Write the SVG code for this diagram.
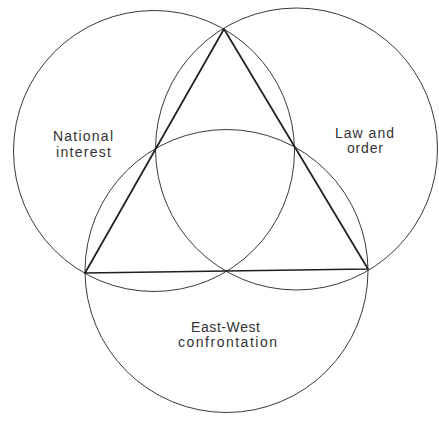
<svg xmlns="http://www.w3.org/2000/svg" width="439" height="441" viewBox="0 0 439 441">
<style>
.c{fill:none;stroke:#3a3a3a;stroke-width:1}
.t{fill:none;stroke:#1e1e1e;stroke-width:1.7;stroke-linejoin:round}
.l{font-family:"Liberation Sans",Arial,sans-serif;font-size:14px;fill:#333;text-anchor:middle}
</style>
<rect width="439" height="441" fill="#fff"/>
<g id="national-interest">
<circle class="c" cx="154" cy="151" r="140.5"/>
<text class="l" x="83" y="141" textLength="60" lengthAdjust="spacing">National</text>
<text class="l" x="83.5" y="157" textLength="55" lengthAdjust="spacing">interest</text>
</g>
<g id="law-and-order">
<circle class="c" cx="296.5" cy="149" r="141"/>
<text class="l" x="364.5" y="138" textLength="59" lengthAdjust="spacing">Law and</text>
<text class="l" x="365" y="153" textLength="36" lengthAdjust="spacing">order</text>
</g>
<g id="east-west-confrontation">
<circle class="c" cx="226.5" cy="271" r="141.5"/>
<text class="l" x="225.5" y="332" textLength="69" lengthAdjust="spacing">East-West</text>
<text class="l" x="227.5" y="347" textLength="99" lengthAdjust="spacing">confrontation</text>
</g>
<g id="connectors">
<polygon class="t" points="224,29 85,273 368,269"/>
</g>
</svg>
